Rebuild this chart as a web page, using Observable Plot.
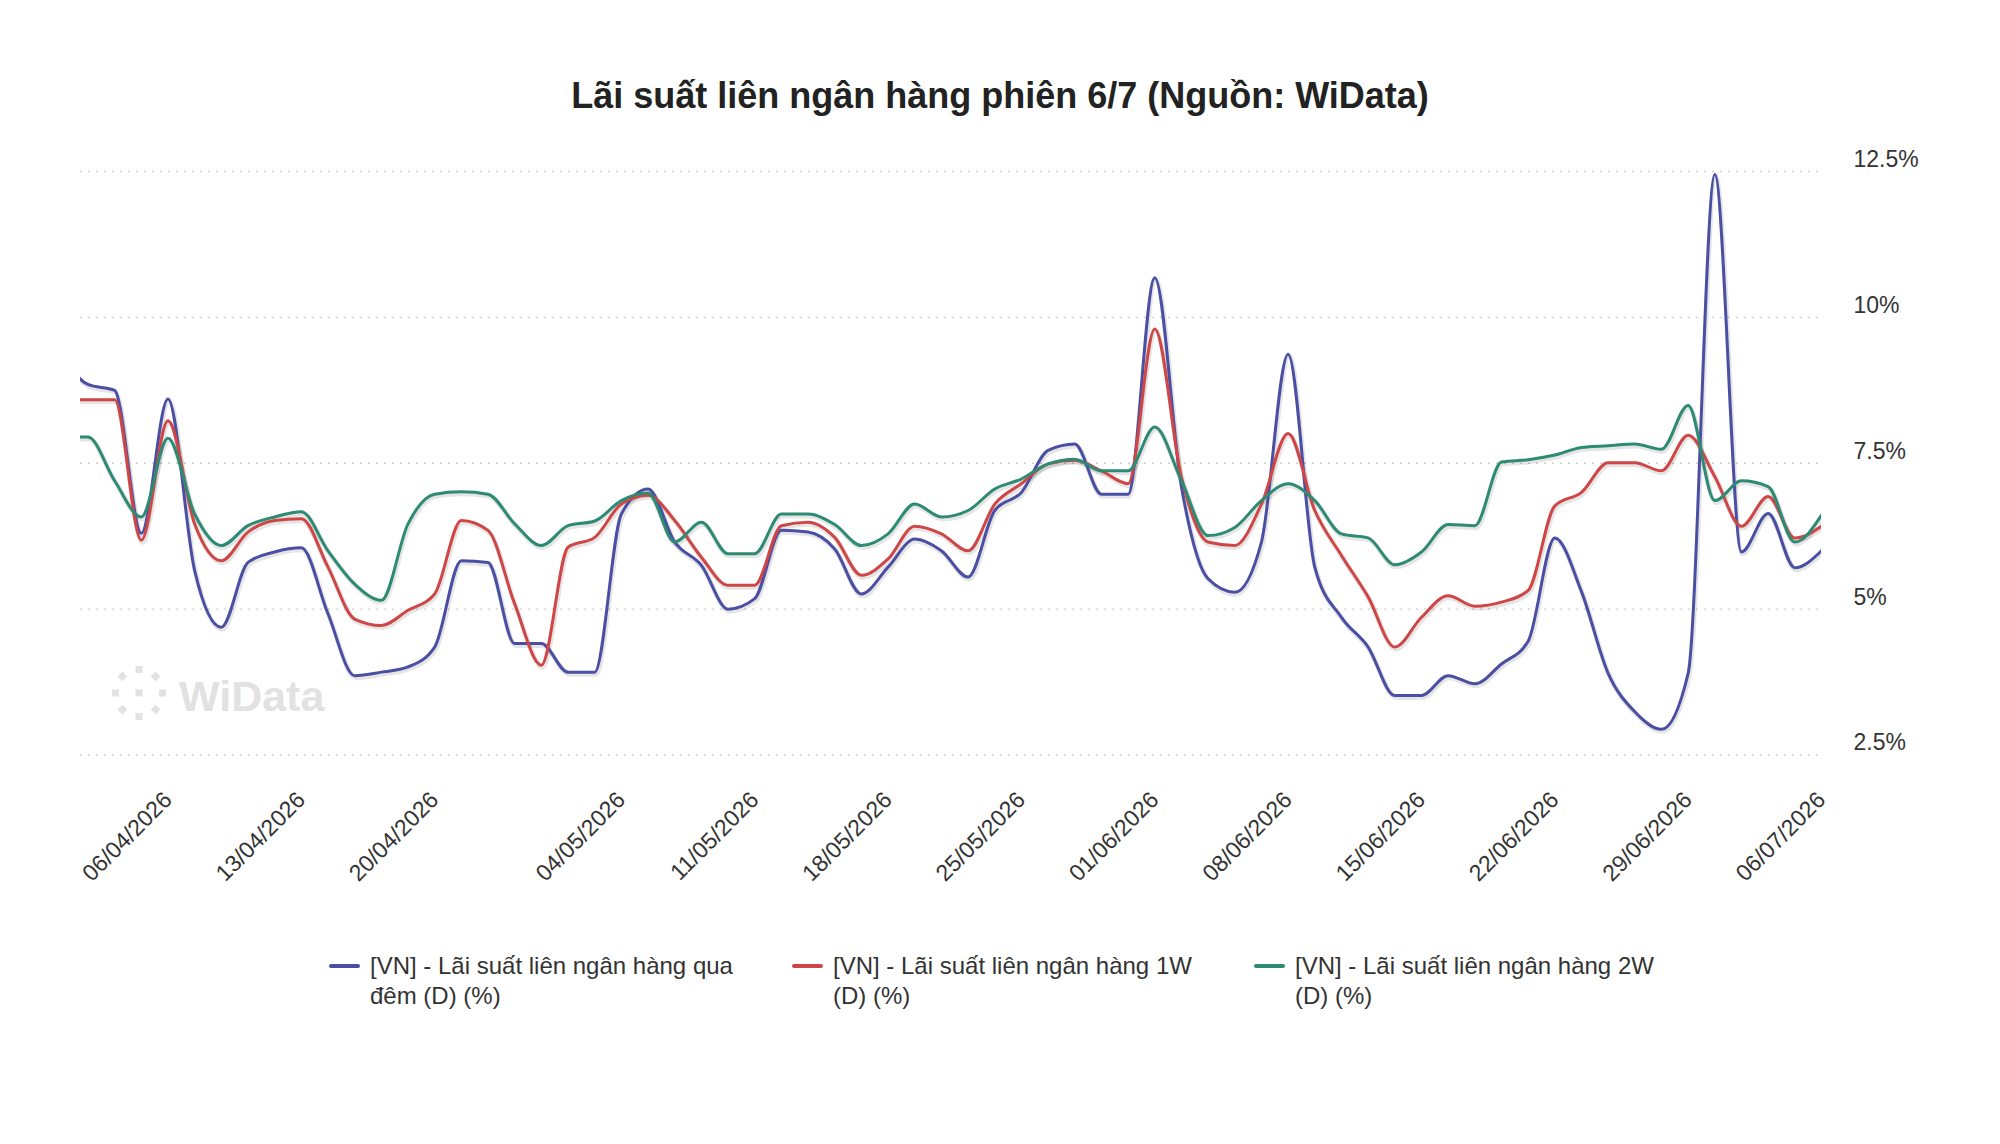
<!DOCTYPE html>
<html>
<head>
<meta charset="utf-8">
<script src="https://cdn.jsdelivr.net/npm/d3@7"></script>
<script src="https://cdn.jsdelivr.net/npm/@observablehq/plot@0.6"></script>
<style>
  body { margin: 0; background: #fff; font-family: "Liberation Sans", Arial, sans-serif; }
  #wrap { position: relative; width: 2000px; height: 1144px; overflow: hidden; background: #fff; }
  #title { position: absolute; left: 0; top: 74px; width: 2000px; text-align: center; font-weight: bold; font-size: 36px; line-height: 44px; color: #222; }
  #wm { position: absolute; left: 0; top: 0; }
  #chart { position: absolute; left: 0; top: 130px; }
  .item { position: absolute; top: 951px; font-size: 24px; line-height: 29.5px; color: #333; }
  .item .sw { position: absolute; left: -41px; top: 13px; width: 31px; height: 4px; border-radius: 2px; }
  .item .tx { width: 374px; }
</style>
</head>
<body>
<div id="wrap">
  <div id="title">Lãi suất liên ngân hàng phiên 6/7 (Nguồn: WiData)</div>
  <svg id="wm" width="2000" height="1144"></svg>
  <div id="chart"></div>
  <div id="legend"></div>
</div>
<script>
const dates = ["31/03/2026","01/04/2026","02/04/2026","03/04/2026","06/04/2026","07/04/2026","08/04/2026","09/04/2026","10/04/2026","13/04/2026","14/04/2026","15/04/2026","16/04/2026","17/04/2026","20/04/2026","21/04/2026","22/04/2026","23/04/2026","24/04/2026","28/04/2026","29/04/2026","04/05/2026","05/05/2026","06/05/2026","07/05/2026","08/05/2026","11/05/2026","12/05/2026","13/05/2026","14/05/2026","15/05/2026","18/05/2026","19/05/2026","20/05/2026","21/05/2026","22/05/2026","25/05/2026","26/05/2026","27/05/2026","28/05/2026","29/05/2026","01/06/2026","02/06/2026","03/06/2026","04/06/2026","05/06/2026","08/06/2026","09/06/2026","10/06/2026","11/06/2026","12/06/2026","15/06/2026","16/06/2026","17/06/2026","18/06/2026","19/06/2026","22/06/2026","23/06/2026","24/06/2026","25/06/2026","26/06/2026","29/06/2026","30/06/2026","01/07/2026","02/07/2026","03/07/2026","06/07/2026"];

const overnight = [9.35, 8.85, 8.75, 6.30, 8.60, 5.66, 4.69, 5.80, 5.98, 6.05, 4.92, 3.86, 3.92, 4.01, 4.35, 5.83, 5.80, 4.41, 4.41, 3.92, 3.92, 6.63, 7.06, 6.15, 5.75, 5.00, 5.18, 6.35, 6.32, 6.03, 5.26, 5.72, 6.20, 6.00, 5.55, 6.69, 7.00, 7.72, 7.83, 6.97, 6.97, 10.68, 7.10, 5.52, 5.29, 6.15, 9.37, 5.72, 4.86, 4.35, 3.52, 3.52, 3.86, 3.72, 4.06, 4.45, 6.22, 5.30, 3.90, 3.24, 2.94, 3.90, 12.45, 5.98, 6.64, 5.71, 6.00];

const week1 = [8.59, 8.59, 8.59, 6.18, 8.23, 6.46, 5.83, 6.32, 6.52, 6.55, 5.72, 4.83, 4.72, 4.98, 5.26, 6.52, 6.35, 5.09, 4.04, 6.06, 6.23, 6.80, 6.95, 6.52, 5.89, 5.41, 5.41, 6.43, 6.49, 6.23, 5.58, 5.86, 6.42, 6.29, 6.00, 6.80, 7.15, 7.49, 7.55, 7.37, 7.15, 9.80, 7.26, 6.15, 6.09, 6.80, 8.01, 6.69, 5.92, 5.21, 4.35, 4.86, 5.23, 5.05, 5.12, 5.32, 6.77, 7.00, 7.51, 7.51, 7.37, 7.98, 7.27, 6.42, 6.93, 6.22, 6.42];

const week2 = [7.95, 7.95, 7.20, 6.58, 7.93, 6.63, 6.09, 6.43, 6.58, 6.67, 6.00, 5.43, 5.15, 6.46, 6.97, 7.01, 6.97, 6.46, 6.09, 6.43, 6.51, 6.86, 6.99, 6.15, 6.49, 5.95, 5.95, 6.63, 6.63, 6.45, 6.09, 6.29, 6.80, 6.58, 6.69, 7.06, 7.23, 7.49, 7.57, 7.37, 7.37, 8.12, 7.20, 6.26, 6.40, 6.86, 7.15, 6.86, 6.29, 6.22, 5.76, 5.98, 6.45, 6.43, 7.52, 7.56, 7.64, 7.77, 7.80, 7.83, 7.74, 8.49, 6.86, 7.20, 7.10, 6.15, 6.61];

const tickLabels = ["06/04/2026","13/04/2026","20/04/2026","04/05/2026","11/05/2026","18/05/2026","25/05/2026","01/06/2026","08/06/2026","15/06/2026","22/06/2026","29/06/2026","06/07/2026"];
const yTicks = [2.5, 5, 7.5, 10, 12.5];
const seriesNames = ["[VN] - Lãi suất liên ngân hàng qua đêm (D) (%)", "[VN] - Lãi suất liên ngân hàng 1W (D) (%)", "[VN] - Lãi suất liên ngân hàng 2W (D) (%)"];
const colors = ["#4a4fa4", "#d04646", "#2d8a73"];

const rows = [];
[overnight, week1, week2].forEach((arr, s) => arr.forEach((v, i) => rows.push({i, v, s: seriesNames[s]})));
const tickIdx = tickLabels.map(l => dates.indexOf(l));

const chart = Plot.plot({
  width: 2000,
  height: 760,
  marginLeft: 80,
  marginRight: 179,
  marginTop: 41,
  marginBottom: 135.5,
  style: {background: "transparent", fontFamily: "'Liberation Sans', Arial, sans-serif", fontSize: "23px", color: "#333", overflow: "visible"},
  x: {domain: [0.72, 66], label: null},
  y: {domain: [2.5, 12.5], label: null},
  color: {domain: seriesNames, range: colors},
  marks: [
    Plot.gridY(yTicks, {stroke: "#cfcfcf", strokeOpacity: 1, strokeWidth: 1.4, strokeDasharray: "2,6"}),
    Plot.axisY(yTicks, {anchor: "right", tickSize: 0, tickPadding: 32, dy: -12, textAnchor: "start", tickFormat: d => d + "%", fontSize: 23, fill: "#333", label: null}),
    Plot.axisX(tickIdx, {anchor: "bottom", tickSize: 0, tickPadding: 41, tickRotate: -45, tickFormat: i => dates[i], fontSize: 23, fill: "#333", label: null}),
    Plot.lineY(rows, {x: "i", y: "v", z: "s", stroke: "#000", strokeOpacity: 0.1, strokeWidth: 5, dx: 1, dy: 2, curve: "monotone-x", clip: true}),
    Plot.lineY(rows, {x: "i", y: "v", z: "s", stroke: "s", strokeWidth: 3, curve: "monotone-x", clip: true})
  ]
});
document.getElementById("chart").appendChild(chart);

// watermark (decorative)
const wm = d3.select("#wm");
const cx = 139, cy = 693, r = 23.5, sz = 7, wmColor = "#e2e2e2";
wm.append("rect").attr("x", cx - sz/2).attr("y", cy - sz/2).attr("width", sz).attr("height", sz).attr("fill", wmColor);
for (let k = 0; k < 8; k++) {
  const a = k * Math.PI / 4;
  const px = cx + r * Math.cos(a), py = cy + r * Math.sin(a);
  wm.append("rect").attr("x", px - sz/2).attr("y", py - sz/2).attr("width", sz).attr("height", sz)
    .attr("fill", wmColor).attr("transform", k % 2 ? `rotate(45 ${px} ${py})` : null);
}
wm.append("text").attr("x", 179).attr("y", 711).attr("fill", wmColor)
  .attr("font-family", "'Liberation Sans', Arial, sans-serif").attr("font-weight", "bold").attr("font-size", 43).text("WiData");

// legend
const legendLeft = [370, 833, 1295];
const lg = document.getElementById("legend");
seriesNames.forEach((name, k) => {
  const it = document.createElement("div");
  it.className = "item";
  it.style.left = legendLeft[k] + "px";
  it.innerHTML = `<div class="sw" style="background:${colors[k]}"></div><div class="tx"></div>`;
  it.querySelector(".tx").textContent = name;
  lg.appendChild(it);
});
</script>
</body>
</html>
